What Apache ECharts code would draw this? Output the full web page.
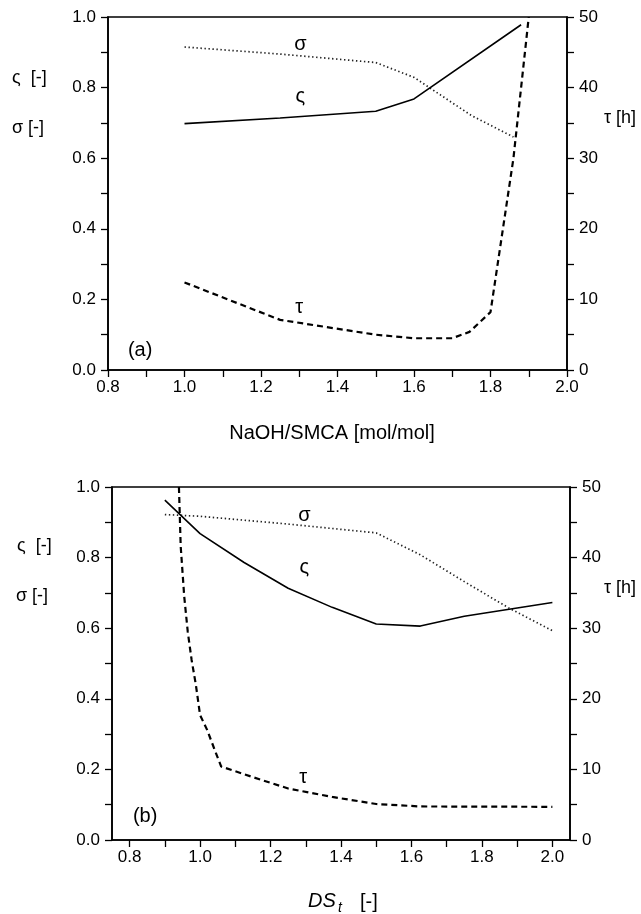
<!DOCTYPE html>
<html>
<head>
<meta charset="utf-8">
<script src="https://cdn.jsdelivr.net/npm/echarts@6/dist/echarts.min.js"></script>
<style>
  html, body { margin: 0; padding: 0; background: #fff; }
  #chart { width: 641px; height: 914px; }
</style>
</head>
<body>
<div id="chart"></div>
<script>
const FONT = '"Liberation Sans", Arial, Helvetica, sans-serif';

// ---- Panel (a): versus NaOH/SMCA molar ratio ----
const ratioVarsigmaX = [1.0, 1.25, 1.5, 1.6, 1.88];
const ratioVarsigmaY = [0.698, 0.714, 0.733, 0.768, 0.978];

const ratioSigmaX = [1.0, 1.25, 1.5, 1.6, 1.75, 1.86];
const ratioSigmaY = [0.915, 0.895, 0.871, 0.829, 0.721, 0.66];

const ratioTauX = [1.0, 1.25, 1.5, 1.6, 1.7, 1.745, 1.8, 1.86, 1.9];
const ratioTauY = [12.4, 7.1, 5.0, 4.5, 4.5, 5.4, 8.2, 30.0, 50.0];

// ---- Panel (b): versus degree of substitution DS_t ----
const dsVarsigmaX = [0.9, 1.0, 1.125, 1.25, 1.375, 1.5, 1.625, 1.75, 2.0];
const dsVarsigmaY = [0.963, 0.868, 0.786, 0.713, 0.659, 0.612, 0.606, 0.634, 0.673];

const dsSigmaX = [0.9, 1.0, 1.25, 1.5, 1.625, 1.75, 1.875, 2.0];
const dsSigmaY = [0.922, 0.917, 0.895, 0.870, 0.808, 0.732, 0.658, 0.593];

const dsTauX = [0.94, 0.945, 0.955, 0.965, 0.976, 0.988, 1.0, 1.02, 1.045, 1.06, 1.15, 1.25, 1.375, 1.5, 1.625, 2.0];
const dsTauY = [50.0, 41.6, 34.5, 29.5, 25.5, 22.0, 17.7, 15.6, 12.3, 10.4, 8.9, 7.3, 6.1, 5.1, 4.75, 4.7];

// ---- Tick values and labels ----
const xTicks = [0.8, 0.9, 1.0, 1.1, 1.2, 1.3, 1.4, 1.5, 1.6, 1.7, 1.8, 1.9, 2.0];
const xLabels = [0.8, 1.0, 1.2, 1.4, 1.6, 1.8, 2.0];
const leftTicks = [0.0, 0.1, 0.2, 0.3, 0.4, 0.5, 0.6, 0.7, 0.8, 0.9, 1.0];
const leftLabels = [0.0, 0.2, 0.4, 0.6, 0.8, 1.0];
const rightTicks = [0, 5, 10, 15, 20, 25, 30, 35, 40, 45, 50];
const rightLabels = [0, 10, 20, 30, 40, 50];

// ---- Curve names placed inside each panel (left-axis units) ----
const tagsA = [
  { name: 'σ', value: [1.303, 0.923] },
  { name: 'ς', value: [1.303, 0.776] },
  { name: 'τ', value: [1.300, 0.178] },
  { name: '(a)', value: [0.884, 0.056] }
];
const tagsB = [
  { name: 'σ', value: [1.296, 0.918] },
  { name: 'ς', value: [1.296, 0.772] },
  { name: 'τ', value: [1.293, 0.177] },
  { name: '(b)', value: [0.844, 0.066] }
];

const zip = (xs, ys) => xs.map((x, i) => [x, ys[i]]);

const axisLineStyle = { color: '#000', width: 1.6 };
const tickStyle = { color: '#000', width: 1.3 };
const labelStyle = { color: '#000', fontSize: 17, fontFamily: FONT };

function xAxis(gridIndex, min, max) {
  return {
    type: 'value', gridIndex, min, max, interval: 0.1,
    axisLine: { show: true, onZero: false, lineStyle: axisLineStyle },
    axisTick: { show: true, length: 7, lineStyle: tickStyle, customValues: xTicks },
    axisLabel: Object.assign({ margin: 9, customValues: xLabels,
      formatter: v => v.toFixed(1) }, labelStyle),
    splitLine: { show: false }
  };
}
function leftAxis(gridIndex) {
  return {
    type: 'value', gridIndex, min: 0, max: 1, interval: 0.1, position: 'left',
    axisLine: { show: true, onZero: false, lineStyle: axisLineStyle },
    axisTick: { show: true, length: 7, lineStyle: tickStyle, customValues: leftTicks },
    axisLabel: Object.assign({ margin: 12, customValues: leftLabels,
      formatter: v => v.toFixed(1) }, labelStyle),
    splitLine: { show: false }
  };
}
function rightAxis(gridIndex) {
  return {
    type: 'value', gridIndex, min: 0, max: 50, interval: 5, position: 'right',
    axisLine: { show: true, onZero: false, lineStyle: axisLineStyle },
    axisTick: { show: true, length: 7, lineStyle: tickStyle, customValues: rightTicks },
    axisLabel: Object.assign({ margin: 12, customValues: rightLabels,
      formatter: v => String(Math.round(v)) }, labelStyle),
    splitLine: { show: false }
  };
}

const solid = { color: '#000', width: 1.6, type: 'solid' };
const dotted = { color: '#222', width: 1.7, type: [1.4, 2.6] };
const dashed = { color: '#000', width: 2.2, type: [6, 4] };

function curve(data, xi, yi, style) {
  return {
    type: 'line', data, xAxisIndex: xi, yAxisIndex: yi,
    symbol: 'none', showSymbol: false, smooth: false,
    lineStyle: style, silent: true, z: 3
  };
}
function tags(data, xi, yi) {
  return {
    type: 'scatter', data, xAxisIndex: xi, yAxisIndex: yi,
    symbolSize: 1, itemStyle: { color: '#000', opacity: 0 }, silent: true, z: 5,
    label: {
      show: true, position: 'inside', formatter: '{b}',
      color: '#000', opacity: 1, fontFamily: FONT, fontSize: 20,
      textBorderWidth: 0, textShadowBlur: 0
    },
    emphasis: { disabled: true }
  };
}

function text(str, x, y, size, opts) {
  return {
    type: 'text', x, y, silent: true,
    style: {
      text: str, fill: '#000',
      font: (opts && opts.italic ? 'italic ' : '') + size + 'px ' + FONT,
      align: (opts && opts.align) || 'left', verticalAlign: 'middle'
    }
  };
}

const chart = echarts.init(document.getElementById('chart'), null, { renderer: 'canvas' });
chart.setOption({
  animation: false,
  backgroundColor: '#fff',
  grid: [
    { left: 108, top: 17, width: 459, height: 353, show: true,
      borderColor: '#000', borderWidth: 1.6, backgroundColor: 'transparent',
      containLabel: false, outerBoundsMode: 'none' },
    { left: 112, top: 487, width: 458, height: 353, show: true,
      borderColor: '#000', borderWidth: 1.6, backgroundColor: 'transparent',
      containLabel: false, outerBoundsMode: 'none' }
  ],
  xAxis: [ xAxis(0, 0.8, 2.0), xAxis(1, 0.75, 2.05) ],
  yAxis: [ leftAxis(0), rightAxis(0), leftAxis(1), rightAxis(1) ],
  series: [
    curve(zip(ratioSigmaX, ratioSigmaY), 0, 0, dotted),
    curve(zip(ratioVarsigmaX, ratioVarsigmaY), 0, 0, solid),
    curve(zip(ratioTauX, ratioTauY), 0, 1, dashed),
    tags(tagsA, 0, 0),
    curve(zip(dsSigmaX, dsSigmaY), 1, 2, dotted),
    curve(zip(dsVarsigmaX, dsVarsigmaY), 1, 2, solid),
    curve(zip(dsTauX, dsTauY), 1, 3, dashed),
    tags(tagsB, 1, 2)
  ],
  graphic: [
    // panel (a) axis titles
    text('ς  [-]', 12, 78, 18),
    text('σ [-]', 12, 128, 18),
    text('τ [h]', 604, 118, 18),
    text('NaOH/SMCA [mol/mol]', 332, 433, 20, { align: 'center' }),
    // panel (b) axis titles
    text('ς  [-]', 17, 546, 18),
    text('σ [-]', 16, 596, 18),
    text('τ [h]', 604, 588, 18),
    text('DS', 308, 901, 20, { italic: true }),
    text('t', 338, 908, 14, { italic: true }),
    text('[-]', 360, 902, 20)
  ]
});
</script>
</body>
</html>
